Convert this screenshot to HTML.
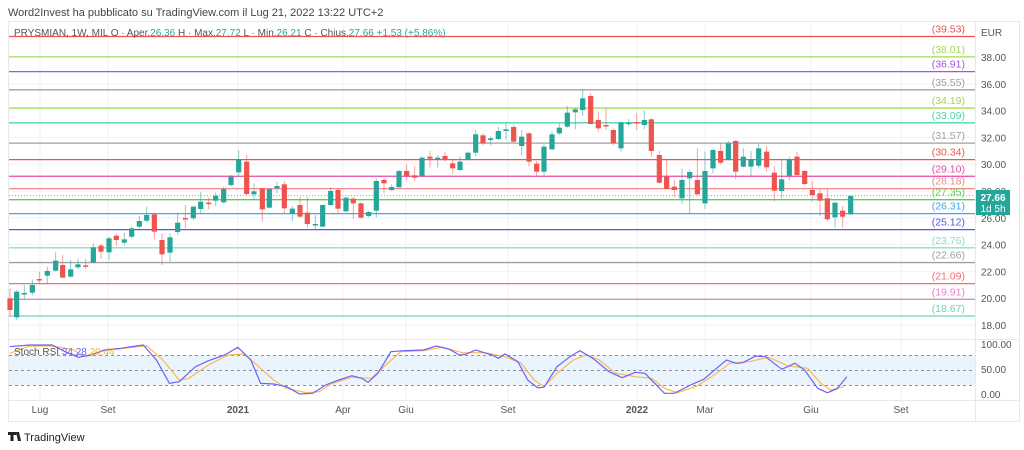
<!DOCTYPE html>
<html><head><meta charset="utf-8"><style>
body{margin:0;background:#fff;width:1024px;height:450px;overflow:hidden}
svg{display:block;font-family:"Liberation Sans",sans-serif}
</style></head><body>
<svg id="s" width="1024" height="450" xmlns="http://www.w3.org/2000/svg">
<rect width="1024" height="450" fill="#fff"/>
<text x="8" y="16" font-size="11" fill="#444">Word2Invest ha pubblicato su TradingView.com il Lug 21, 2022 13:22 UTC+2</text>
<rect x="8.5" y="21.5" width="1011" height="400" fill="none" stroke="#e6e8ee"/>
<g id="grid" stroke="#f1f2f5" stroke-width="1"></g>
<rect x="9" y="355" width="966" height="30" fill="#e3f1fc" opacity="0.8"/>
<g stroke="#8a8f9c" stroke-dasharray="3,3" stroke-width="1">
<line x1="9" x2="975" y1="355.5" y2="355.5"/><line x1="9" x2="975" y1="370.5" y2="370.5"/><line x1="9" x2="975" y1="385.5" y2="385.5"/></g>
<g id="levels"></g>
<line x1="9" x2="975" y1="195.6" y2="195.6" stroke="#26a69a" stroke-dasharray="1,2" opacity="0.7"/>
<g id="candles"></g>
<g id="stoch" fill="none" stroke-width="1.2"></g>
<line x1="975.5" x2="975.5" y1="22" y2="421" stroke="#e6e8ee"/>
<line x1="9" x2="1019" y1="339.5" y2="339.5" stroke="#e6e8ee"/>
<line x1="9" x2="1019" y1="400.5" y2="400.5" stroke="#e6e8ee"/>
<g id="axis" font-size="10" fill="#555"></g>
<text x="981" y="36" font-size="10" fill="#555">EUR</text>
<rect x="976" y="190" width="34" height="25" fill="#26a69a"/>
<text x="993" y="201" font-size="10" fill="#fff" text-anchor="middle" font-weight="bold">27.66</text>
<text x="993" y="212" font-size="10" fill="#fff" text-anchor="middle">1d 5h</text>
<text x="14" y="36" font-size="10" fill="#555">PRYSMIAN, 1W, MIL  O · Aper.<tspan fill="#26a69a">26.36</tspan>  H · Max.<tspan fill="#26a69a">27.72</tspan>  L · Min.<tspan fill="#26a69a">26.21</tspan>  C · Chius.<tspan fill="#26a69a">27.66  +1.53 (+5.86%)</tspan></text>
<text x="14" y="355" font-size="10" fill="#555">Stoch RSI <tspan fill="#6b63f6">34.28</tspan> <tspan fill="#ffb030">20.44</tspan></text>
<g fill="#222"><rect x="8" y="432" width="8" height="3"/><rect x="10.5" y="432" width="3" height="9"/><polygon points="16,432 19,432 21,441 18,441"/><circle cx="17.5" cy="433.5" r="1.5"/></g>
<text x="24" y="441" font-size="11" fill="#222">TradingView</text>
</svg>
<script>
var NS="http://www.w3.org/2000/svg";
function el(p,t,a,txt){var e=document.createElementNS(NS,t);for(var k in a)e.setAttribute(k,a[k]);if(txt!=null)e.textContent=txt;document.getElementById(p).appendChild(e);return e;}
function Y(p){return 57+(38-p)*13.4;}
// grid
[40,108,238,343,406,508,637,705,811,901].forEach(function(x){el('grid','line',{x1:x,x2:x,y1:22,y2:400});});
for(var p=18;p<=38;p+=2){el('grid','line',{x1:9,x2:975,y1:Y(p),y2:Y(p)});el('axis','text',{x:981,y:Y(p)+4},p.toFixed(2));}
[['100.00',348],['50.00',373],['0.00',398]].forEach(function(a){el('axis','text',{x:981,y:a[1]},a[0]);});
[['Lug',40],['Set',108],['2021',238],['Apr',343],['Giu',406],['Set',508],['2022',637],['Mar',705],['Giu',811],['Set',901]].forEach(function(a){el('axis','text',{x:a[1],y:413,'text-anchor':'middle','font-weight':(a[0].length==4?'bold':'normal')},a[0]);});
// levels
var L=[[39.53,'#ef5350'],[38.01,'#a5d65a'],[36.91,'#a855d8'],[35.55,'#a0a0a0'],[34.19,'#a5d65a'],[33.09,'#4dd6a8'],[31.57,'#a0a0a0'],[30.34,'#ef5350'],[29.10,'#e64aa8'],[28.18,'#f08a8a'],[27.35,'#5fd04a'],[26.31,'#42a5f5'],[25.12,'#5656e8'],[23.76,'#86e0c4'],[22.66,'#a0a0a0'],[21.09,'#ef7070'],[19.91,'#e880c8'],[18.67,'#6ad8b0']];
L.forEach(function(l){var y=Y(l[0]);el('levels','line',{x1:9,x2:975,y1:y,y2:y,stroke:l[1],'stroke-width':1.3});
el('levels','text',{x:965,y:y-4,'font-size':10.5,fill:l[1],'text-anchor':'end'},'('+l[0].toFixed(2)+')');});
// candles [zx, c, bodyTop, bodyBot, wickTop, wickBot]
var A=[[30,'r',655,690,625,710],[50,'g',635,712,630,720],[73,'g',639,642,615,660],[97,'g',615,638,598,645],[118,'r',597,600,575,610],[142,'g',573,587,560,612],[167,'g',542,572,515,575],[188,'r',555,593,525,593],[212,'g',568,590,540,592],[234,'g',553,562,535,568],[257,'r',556,559,537,567],[280,'g',502,548,490,550],[303,'r',497,515,492,537],[327,'g',475,517,470,540],[349,'r',467,480,460,497],[373,'g',478,488,458,497],[395,'g',445,470,440,475],[418,'g',423,440,408,445],[440,'g',405,422,380,428],[463,'r',403,455,398,478],[486,'r',480,523,460,555],[510,'g',472,518,460,545],[533,'g',428,456,398,465],[556,'r',414,417,375,445],[580,'g',380,415,378,420],[602,'g',365,387,335,400],[626,'r',368,371,352,388],[647,'g',347,362,338,378],[671,'g',327,367,320,370],[693,'g',290,315,285,320],[716,'g',238,277,210,290],[740,'r',245,342,225,345],[762,'g',334,343,310,360],[787,'r',325,388,325,425],[808,'g',327,383,325,385],[831,'g',318,325,305,340],[853,'r',313,385,303,402],[877,'g',386,402,378,423],[900,'r',375,410,350,412],[922,'r',398,432,350,443],[946,'g',432,435,405,452],[968,'g',375,440,373,440],[992,'g',333,375,322,378],[1014,'r',330,386,325,400],[1038,'g',353,394,352,396],[1060,'r',356,370,352,418],[1083,'r',370,413,367,415],[1106,'g',396,408,393,412],[1129,'g',303,392,295,412],[1152,'r',300,310,295,340],[1175,'g',321,330,313,333],[1197,'g',273,322,270,323],[1220,'r',273,288,253,300],[1244,'r',286,293,258,302],[1266,'g',233,288,228,290],[1290,'r',230,236,213,262]];
var B=[[23,'g',233,240,225,262],[45,'r',228,237,215,245],[68,'r',250,265,240,280],[90,'g',245,270,230,273],[114,'g',218,240,215,242],[137,'g',163,218,150,228],[159,'r',166,190,160,195],[182,'g',175,180,170,197],[205,'g',153,177,140,180],[228,'g',148,153,128,180],[251,'r',141,185,133,187],[275,'g',170,198,150,225],[297,'r',160,245,158,260],[320,'r',251,275,243,287],[342,'g',200,275,193,288],[366,'g',163,208,155,210],[388,'g',143,160,130,165],[412,'g',98,140,78,143],[436,'g',88,97,83,148],[458,'g',55,90,28,108],[482,'r',48,132,40,132],[505,'r',120,145,95,155],[528,'r',135,139,85,150],[550,'r',150,190,148,195],[573,'g',127,205,125,215],[596,'g',128,132,117,138],[620,'r',126,129,100,150],[643,'g',120,135,92,148],[664,'r',118,213,115,230],[688,'r',225,308,213,312],[710,'r',290,327,235,328],[733,'r',320,330,298,352],[756,'g',300,355,265,372],[779,'g',276,295,270,402],[802,'r',300,343,205,345],[825,'g',273,370,215,387],[849,'g',210,265,205,280],[872,'r',213,248,190,252],[895,'g',190,240,183,242],[917,'r',183,275,180,298],[940,'g',230,260,205,262],[963,'g',238,260,213,288],[986,'g',205,257,190,265],[1010,'r',215,262,197,275],[1033,'r',278,332,258,365],[1055,'g',298,333,240,355],[1078,'g',237,287,230,302],[1101,'r',230,285,215,290],[1124,'r',273,312,270,315],[1147,'r',330,345,302,365],[1170,'r',340,362,325,408],[1192,'r',355,418,327,425],[1215,'g',368,412,365,442],[1238,'r',392,410,378,442],[1262,'g',348,403,345,405]];
function draw(arr,ox,oy){arr.forEach(function(c){var x=ox+c[0]/3,col=c[1]=='g'?'#26a69a':'#ef5350';
el('candles','line',{x1:x,x2:x,y1:oy+c[4]/3,y2:oy+c[5]/3,stroke:col,'stroke-opacity':0.55,'stroke-width':1});
var t=oy+c[2]/3,b=oy+c[3]/3;if(b-t<1.5)b=t+1.5;
el('candles','rect',{x:x-2.6,y:t,width:5.2,height:b-t,fill:col});});}
draw(A,0,80);draw(B,430,80);
function pts(a){return a.map(function(p){return (p[0]/1.535).toFixed(1)+','+(330+p[1]/3).toFixed(1);}).join(' ');}
var blue=[[15,50],[45,45],[80,45],[100,65],[120,82],[140,75],[160,60],[185,55],[220,45],[240,90],[260,160],[275,155],[300,110],[320,92],[345,75],[365,52],[385,90],[400,160],[420,162],[440,170],[460,192],[480,190],[500,165],[520,150],[540,137],[555,145],[565,157],[580,130],[600,65],[620,62],[650,60],[670,48],[690,58],[705,75],[715,73],[730,60],[755,75],[765,85],[775,72],[795,95],[810,150],[825,173],[835,172],[855,110],[875,80],[890,62],[910,85],[935,125],[955,143],[975,127],[990,130],[1005,160],[1020,190],[1035,190],[1060,165],[1080,148],[1100,115],[1115,90],[1130,100],[1140,98],[1160,78],[1175,80],[1200,118],[1220,100],[1235,120],[1255,175],[1270,188],[1285,176],[1300,140]];
var org=[[15,70],[45,48],[80,48],[110,58],[130,78],[160,62],[190,55],[225,47],[250,90],[275,150],[290,145],[320,105],[350,75],[375,72],[400,115],[420,150],[440,175],[470,188],[490,185],[510,160],[540,142],[570,145],[595,100],[615,65],[650,62],[680,52],[710,68],[745,68],[775,80],[800,100],[820,150],[835,170],[855,130],[880,90],[900,75],[920,90],[945,130],[975,140],[1000,145],[1020,175],[1040,188],[1070,168],[1100,130],[1120,100],[1150,95],[1180,82],[1210,108],[1240,115],[1260,160],[1275,180],[1295,170]];
el('stoch','polyline',{points:pts(org),stroke:'#ffb74d'});
el('stoch','polyline',{points:pts(blue),stroke:'#6b63f6'});
</script>
</body></html>
